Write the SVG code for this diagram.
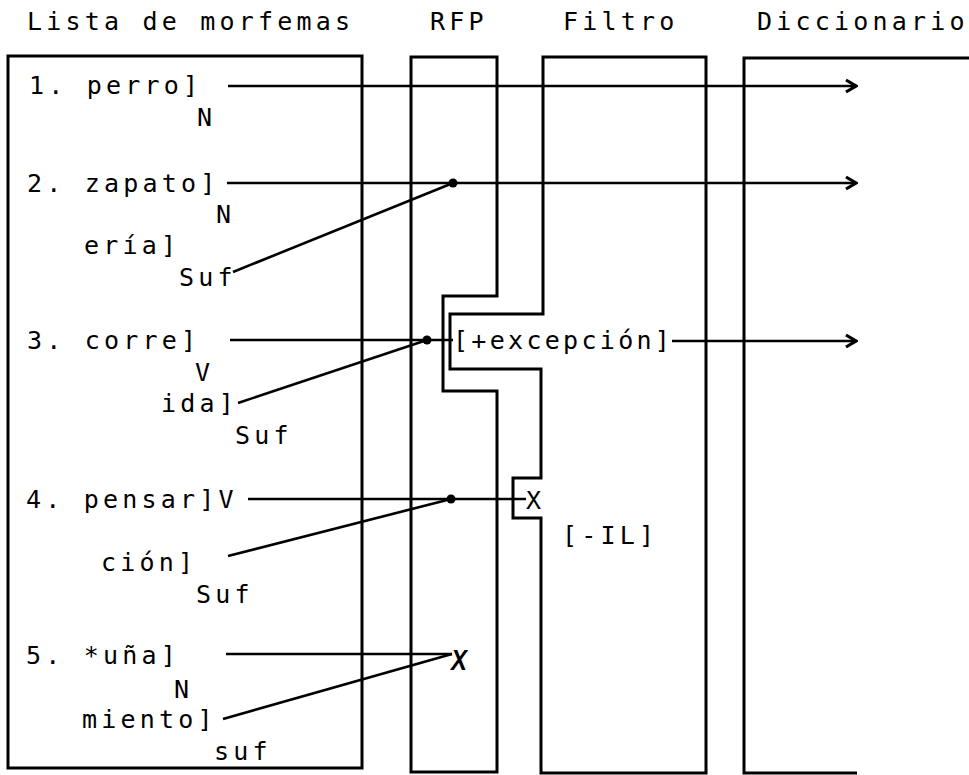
<svg xmlns="http://www.w3.org/2000/svg" width="969" height="775" viewBox="0 0 969 775">
<style>
text{font-family:"DejaVu Sans Mono","Liberation Mono",monospace;font-size:25px;letter-spacing:4.2px;fill:#000}
.box{fill:none;stroke:#000;stroke-width:3;stroke-linejoin:miter}
.c{fill:none;stroke:#000;stroke-width:2.6}
.dot{fill:#000}
</style>
<defs>
<marker id="ah" markerWidth="14" markerHeight="16" refX="12" refY="8" orient="auto" markerUnits="userSpaceOnUse">
<path d="M2,2 L12,8 L2,14" fill="none" stroke="#000" stroke-width="3.2"/>
</marker>
</defs>
<rect width="969" height="775" fill="#fff"/>
<g id="headers">
<text x="27" y="30">Lista de morfemas</text>
<text x="430" y="30">RFP</text>
<text x="563" y="30">Filtro</text>
<text x="757" y="30">Diccionario</text>
</g>
<g id="lista">
<rect class="box" x="8" y="56" width="354" height="712"/>
<text x="29" y="94">1. perro]</text>
<text x="197" y="126">N</text>
<text x="27" y="192">2. zapato]</text>
<text x="216" y="223">N</text>
<text x="84" y="254">ería]</text>
<text x="179" y="286">Suf</text>
<text x="27" y="349">3. corre]</text>
<text x="195" y="381">V</text>
<text x="161" y="412">ida]</text>
<text x="235" y="444">Suf</text>
<text x="26" y="508">4. pensar]V</text>
<text x="101" y="571">ción]</text>
<text x="196" y="603">Suf</text>
<text x="26" y="664">5. *uña]</text>
<text x="174" y="698">N</text>
<text x="82" y="728">miento]</text>
<text x="214" y="760">suf</text>
</g>
<g id="rfp">
<path class="box" d="M411,57 H497 V296 H443 V391 H497 V772 H411 Z"/>
</g>
<g id="filtro">
<path class="box" d="M543,57 H706 V773 H541 V518 H513 V478 H541 V369 H450 V314 H543 Z"/>
<text x="453" y="349" style="letter-spacing:3.3px">[+excepción]</text>
<text x="526" y="509" style="letter-spacing:0">X</text>
<text x="562" y="544">[-IL]</text>
</g>
<g id="diccionario">
<path class="box" d="M969,58 H744 V773 H857"/>
</g>
<g id="connectors">
<line class="c" x1="228" y1="86" x2="856" y2="86" marker-end="url(#ah)"/>
<line class="c" x1="227" y1="183" x2="856" y2="183" marker-end="url(#ah)"/>
<line class="c" x1="233" y1="272" x2="453" y2="183"/>
<circle class="dot" cx="453" cy="183" r="4.5"/>
<line class="c" x1="230" y1="340" x2="453" y2="340"/>
<line class="c" x1="238" y1="403" x2="427" y2="340"/>
<circle class="dot" cx="427" cy="340" r="4.5"/>
<line class="c" x1="672" y1="341" x2="856" y2="341" marker-end="url(#ah)"/>
<line class="c" x1="248" y1="499" x2="526" y2="499"/>
<line class="c" x1="228" y1="556" x2="451" y2="499"/>
<circle class="dot" cx="451" cy="499" r="4.5"/>
<line class="c" x1="226" y1="654" x2="452" y2="654"/>
<line class="c" x1="223" y1="719" x2="452" y2="654"/>
<text x="451" y="670" style="font-family:'Liberation Sans',sans-serif;font-weight:bold;font-style:italic;font-size:30px;letter-spacing:0" textLength="16" lengthAdjust="spacingAndGlyphs">X</text>
</g>
</svg>
